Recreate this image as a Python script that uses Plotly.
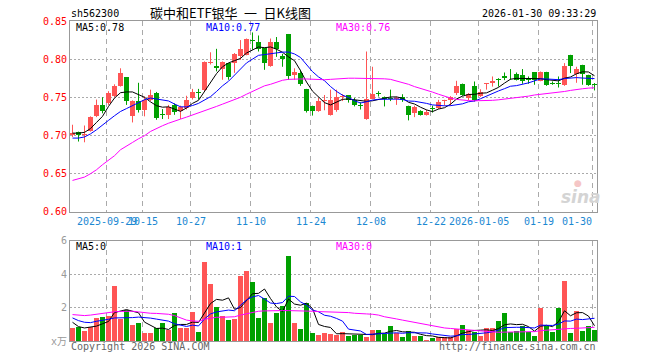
import plotly.graph_objects as go

# ---------------- data ----------------
dates = [
    "2025-09-19", "2025-09-22", "2025-09-23", "2025-09-24", "2025-09-25", "2025-09-26",
    "2025-09-29", "2025-09-30", "2025-10-09", "2025-10-10", "2025-10-13", "2025-10-14",
    "2025-10-15", "2025-10-16", "2025-10-17", "2025-10-20", "2025-10-21", "2025-10-22",
    "2025-10-23", "2025-10-24", "2025-10-27", "2025-10-28", "2025-10-29", "2025-10-30",
    "2025-10-31", "2025-11-03", "2025-11-04", "2025-11-05", "2025-11-06", "2025-11-07",
    "2025-11-10", "2025-11-11", "2025-11-12", "2025-11-13", "2025-11-14", "2025-11-17",
    "2025-11-18", "2025-11-19", "2025-11-20", "2025-11-21", "2025-11-24", "2025-11-25",
    "2025-11-26", "2025-11-27", "2025-11-28", "2025-12-01", "2025-12-02", "2025-12-03",
    "2025-12-04", "2025-12-05", "2025-12-08", "2025-12-09", "2025-12-10", "2025-12-11",
    "2025-12-12", "2025-12-15", "2025-12-16", "2025-12-17", "2025-12-18", "2025-12-19",
    "2025-12-22", "2025-12-23", "2025-12-24", "2025-12-25", "2025-12-26", "2025-12-29",
    "2025-12-30", "2025-12-31", "2026-01-05", "2026-01-06", "2026-01-07", "2026-01-08",
    "2026-01-09", "2026-01-12", "2026-01-13", "2026-01-14", "2026-01-15", "2026-01-16",
    "2026-01-19", "2026-01-20", "2026-01-21", "2026-01-22", "2026-01-23", "2026-01-26",
    "2026-01-27", "2026-01-28", "2026-01-29", "2026-01-30",
]

opens = [
    0.700, 0.704, 0.700, 0.706, 0.725, 0.740, 0.743, 0.752, 0.765, 0.776,
    0.726, 0.745, 0.733, 0.746, 0.756, 0.7275, 0.727, 0.740, 0.732, 0.736,
    0.749, 0.7555, 0.759, 0.7955, 0.791, 0.787, 0.795, 0.795, 0.804, 0.806,
    0.8245, 0.823, 0.814, 0.791, 0.822, 0.8035, 0.833, 0.7786, 0.7817, 0.761,
    0.739, 0.732, 0.7445, 0.727, 0.733, 0.7505, 0.7528, 0.746, 0.7385, 0.7214,
    0.748, 0.7545, 0.750, 0.7485, 0.748, 0.751, 0.739, 0.730, 0.7323, 0.727,
    0.735, 0.7358, 0.745, 0.7467, 0.7555, 0.7677, 0.749, 0.765, 0.752, 0.767,
    0.7686, 0.7735, 0.778, 0.7828, 0.7808, 0.7795, 0.7733, 0.783, 0.772, 0.7834,
    0.768, 0.768, 0.7664, 0.8057, 0.781, 0.7926, 0.7795, 0.767,
]
highs = [
    0.714, 0.705, 0.713, 0.725, 0.747, 0.750, 0.758, 0.767, 0.788, 0.776,
    0.746, 0.769, 0.751, 0.760, 0.757, 0.7345, 0.740, 0.742, 0.739, 0.752,
    0.761, 0.761, 0.797, 0.809, 0.8135, 0.797, 0.795, 0.808, 0.825, 0.827,
    0.835, 0.831, 0.815, 0.827, 0.829, 0.807, 0.833, 0.788, 0.786, 0.761,
    0.739, 0.749, 0.753, 0.760, 0.760, 0.754, 0.753, 0.749, 0.7435, 0.810,
    0.790, 0.758, 0.751, 0.760, 0.751, 0.754, 0.739, 0.739, 0.733, 0.7336,
    0.739, 0.7467, 0.7467, 0.7515, 0.7716, 0.768, 0.7555, 0.7707, 0.7605, 0.768,
    0.7773, 0.775, 0.7825, 0.787, 0.7825, 0.787, 0.7773, 0.783, 0.7838, 0.7834,
    0.7707, 0.7773, 0.7948, 0.8057, 0.790, 0.7926, 0.7795, 0.7686,
]
lows = [
    0.698, 0.692, 0.691, 0.705, 0.724, 0.729, 0.740, 0.750, 0.764, 0.740,
    0.717, 0.730, 0.725, 0.745, 0.7205, 0.7215, 0.7215, 0.727, 0.7215, 0.734,
    0.747, 0.747, 0.758, 0.793, 0.784, 0.773, 0.773, 0.782, 0.799, 0.805,
    0.8125, 0.810, 0.786, 0.790, 0.803, 0.790, 0.773, 0.773, 0.765, 0.730,
    0.726, 0.731, 0.733, 0.726, 0.731, 0.745, 0.743, 0.738, 0.734, 0.7205,
    0.7475, 0.751, 0.738, 0.745, 0.740, 0.744, 0.7197, 0.724, 0.726, 0.726,
    0.730, 0.7345, 0.739, 0.739, 0.753, 0.752, 0.746, 0.7445, 0.7505, 0.760,
    0.764, 0.764, 0.7725, 0.773, 0.772, 0.7677, 0.7677, 0.7664, 0.771, 0.765,
    0.7664, 0.7628, 0.765, 0.7817, 0.769, 0.7664, 0.765, 0.759,
]
closes = [
    0.703, 0.700, 0.701, 0.724, 0.740, 0.732, 0.755, 0.765, 0.782, 0.745,
    0.745, 0.733, 0.747, 0.753, 0.723, 0.727, 0.7375, 0.731, 0.737, 0.747,
    0.757, 0.755, 0.796, 0.796, 0.788, 0.7965, 0.777, 0.807, 0.8135, 0.826,
    0.824, 0.813, 0.7955, 0.822, 0.8135, 0.800, 0.778, 0.7825, 0.767, 0.732,
    0.732, 0.7445, 0.745, 0.746, 0.750, 0.751, 0.7467, 0.740, 0.738, 0.7476,
    0.7546, 0.754, 0.7476, 0.748, 0.7485, 0.746, 0.727, 0.7367, 0.727, 0.731,
    0.7345, 0.7437, 0.7455, 0.750, 0.765, 0.7533, 0.7546, 0.7467, 0.757, 0.7675,
    0.7707, 0.773, 0.7747, 0.7825, 0.773, 0.7707, 0.773, 0.773, 0.7825, 0.7664,
    0.7677, 0.7677, 0.791, 0.7904, 0.787, 0.781, 0.7664, 0.7664,
]
ma5 = [
    0.703, 0.703, 0.704, 0.709, 0.717, 0.725, 0.738, 0.749, 0.756, 0.757,
    0.757, 0.753, 0.750, 0.744, 0.739, 0.737, 0.7375, 0.7345, 0.7315, 0.736,
    0.742, 0.746, 0.758, 0.770, 0.781, 0.790, 0.795, 0.798, 0.801, 0.808,
    0.8125, 0.816, 0.815, 0.816, 0.813, 0.809, 0.803, 0.798, 0.785, 0.770,
    0.758, 0.750, 0.743, 0.740, 0.7435, 0.7473, 0.7477, 0.7467, 0.7451, 0.7447,
    0.7454, 0.7468, 0.7484, 0.7504, 0.7505, 0.7488, 0.7434, 0.7412, 0.737, 0.7335,
    0.7312, 0.7346, 0.7363, 0.7409, 0.7477, 0.7515, 0.7537, 0.7539, 0.7553, 0.7558,
    0.7593, 0.763, 0.7686, 0.7737, 0.7748, 0.7748, 0.7748, 0.7744, 0.7744, 0.7731,
    0.7725, 0.7715, 0.7751, 0.7766, 0.7808, 0.7834, 0.7832, 0.7782,
]
ma10 = [
    0.6965, 0.6965, 0.698, 0.702, 0.7074, 0.714, 0.7197, 0.7258, 0.7314, 0.7352,
    0.7392, 0.7425, 0.7468, 0.749, 0.748, 0.7472, 0.7452, 0.7412, 0.7375, 0.7374,
    0.7392, 0.742, 0.7462, 0.7508, 0.7576, 0.765, 0.771, 0.779, 0.787, 0.795,
    0.800, 0.805, 0.806, 0.807, 0.8088, 0.8092, 0.8093, 0.8068, 0.8022, 0.7928,
    0.7836, 0.7767, 0.7717, 0.7641, 0.7577, 0.7528, 0.7497, 0.7454, 0.7425, 0.7441,
    0.7463, 0.7473, 0.7476, 0.7478, 0.7476, 0.7471, 0.7451, 0.7448, 0.7437, 0.742,
    0.740, 0.739, 0.7388, 0.739, 0.7406, 0.7414, 0.7441, 0.7451, 0.7481, 0.7518,
    0.7554, 0.7583, 0.7613, 0.7645, 0.7653, 0.767, 0.7689, 0.7715, 0.7741, 0.774,
    0.7737, 0.7731, 0.7745, 0.775, 0.7758, 0.7752, 0.7748, 0.7745,
]
ma30 = [
    0.641, 0.6428, 0.6454, 0.6498, 0.655, 0.6616, 0.668, 0.6734, 0.6812, 0.6856,
    0.6908, 0.6956, 0.6996, 0.7052, 0.7092, 0.7127, 0.716, 0.7183, 0.7214, 0.724,
    0.7266, 0.7293, 0.7323, 0.735, 0.738, 0.741, 0.744, 0.7465, 0.750, 0.754,
    0.758, 0.7614, 0.765, 0.767, 0.770, 0.7723, 0.7735, 0.774, 0.774, 0.774,
    0.7735, 0.773, 0.773, 0.7735, 0.774, 0.775, 0.775, 0.775, 0.775, 0.775,
    0.775, 0.7748, 0.7742, 0.7735, 0.7715, 0.7694, 0.767, 0.764, 0.7618, 0.7598,
    0.7568, 0.754, 0.7512, 0.749, 0.7472, 0.7462, 0.7456, 0.7454, 0.7454, 0.7456,
    0.746, 0.7467, 0.7475, 0.7485, 0.7495, 0.7505, 0.7515, 0.753, 0.7538, 0.7545,
    0.7555, 0.7565, 0.7576, 0.759, 0.7605, 0.7612, 0.762, 0.7625,
]
volumes = [
    0.76, 0.82, 0.62, 0.86, 1.40, 1.46, 1.50, 3.30, 1.30, 1.85,
    0.93, 1.05, 0.50, 0.45, 0.80, 1.05, 0.65, 1.70, 0.75, 0.80,
    1.75, 0.55, 4.70, 3.40, 2.05, 1.50, 1.25, 1.30, 3.90, 4.20,
    3.50, 1.35, 2.60, 1.05, 1.70, 2.10, 5.10, 1.10, 0.70, 2.30,
    0.50, 0.35, 0.50, 0.42, 0.38, 0.56, 0.28, 0.36, 0.36, 0.22,
    0.68, 0.68, 0.42, 0.92, 0.46, 0.26, 0.62, 0.32, 0.32, 0.08,
    0.16, 0.22, 0.22, 0.22, 0.72, 0.98, 0.68, 0.56, 0.32, 0.80,
    0.80, 1.22, 1.70, 0.56, 0.62, 0.92, 0.52, 0.32, 2.00, 0.92,
    0.56, 1.96, 3.60, 0.50, 1.82, 0.62, 0.92, 0.68,
]
vol_ma5 = [
    1.12, 0.86, 0.78, 0.82, 0.89, 1.03, 1.17, 1.70, 1.79, 1.88,
    1.78, 1.69, 1.13, 0.96, 0.75, 0.77, 0.69, 0.93, 0.99, 0.99,
    1.13, 1.11, 1.71, 2.24, 2.49, 2.44, 2.58, 1.90, 2.00, 2.43,
    2.83, 2.85, 3.11, 2.54, 2.04, 1.76, 2.51, 2.21, 2.14, 2.26,
    1.94, 0.99, 0.87, 0.81, 0.43, 0.44, 0.43, 0.40, 0.39, 0.36,
    0.38, 0.46, 0.47, 0.58, 0.63, 0.55, 0.54, 0.52, 0.40, 0.32,
    0.30, 0.22, 0.20, 0.18, 0.31, 0.47, 0.56, 0.63, 0.65, 0.67,
    0.63, 0.74, 0.97, 1.02, 0.98, 1.00, 0.86, 0.59, 0.88, 0.94,
    0.86, 1.15, 1.81, 1.51, 1.69, 1.70, 1.49, 0.91,
]
vol_ma10 = [
    1.38, 1.22, 1.12, 1.10, 1.18, 1.22, 1.30, 1.38, 1.38, 1.39,
    1.40, 1.43, 1.42, 1.37, 1.31, 1.27, 1.19, 1.03, 0.97, 0.87,
    0.95, 0.90, 1.32, 1.62, 1.74, 1.79, 1.85, 1.81, 2.12, 2.46,
    2.64, 2.72, 2.51, 2.27, 2.24, 2.30, 2.68, 2.66, 2.34, 2.15,
    1.85, 1.75, 1.54, 1.48, 1.35, 1.19, 0.71, 0.64, 0.60, 0.39,
    0.41, 0.44, 0.44, 0.49, 0.49, 0.46, 0.50, 0.49, 0.49, 0.48,
    0.42, 0.38, 0.36, 0.29, 0.31, 0.39, 0.39, 0.42, 0.42, 0.49,
    0.55, 0.65, 0.80, 0.83, 0.82, 0.82, 0.80, 0.78, 0.95, 0.96,
    0.93, 1.01, 1.20, 1.19, 1.31, 1.28, 1.32, 1.36,
]
vol_ma30 = [
    1.58, 1.55, 1.52, 1.55, 1.60, 1.65, 1.72, 1.75, 1.77, 1.78,
    1.78, 1.74, 1.68, 1.66, 1.65, 1.63, 1.60, 1.52, 1.40, 1.25,
    1.20, 1.18, 1.30, 1.38, 1.42, 1.42, 1.42, 1.45, 1.55, 1.62,
    1.70, 1.78, 1.80, 1.82, 1.82, 1.82, 1.82, 1.82, 1.82, 1.80,
    1.78, 1.76, 1.75, 1.75, 1.74, 1.72, 1.70, 1.66, 1.62, 1.62,
    1.60, 1.55, 1.45, 1.40, 1.32, 1.25, 1.18, 1.10, 1.04, 0.98,
    0.92, 0.85, 0.78, 0.75, 0.72, 0.68, 0.66, 0.62, 0.58, 0.55,
    0.53, 0.52, 0.53, 0.53, 0.54, 0.54, 0.55, 0.56, 0.62, 0.65,
    0.68, 0.72, 0.74, 0.75, 0.76, 0.78, 0.80, 0.82,
]

tick_dates = ["2025-09-29", "2025-10-15", "2025-10-27", "2025-11-10", "2025-11-24",
              "2025-12-08", "2025-12-22", "2026-01-05", "2026-01-19", "2026-01-30"]
tick_labels = ["2025-09-29", "10-15", "10-27", "11-10", "11-24",
               "12-08", "12-22", "2026-01-05", "01-19", "01-30"]
price_ticks = [0.60, 0.65, 0.70, 0.75, 0.80, 0.85]
volume_ticks = [0, 2, 4, 6]
volume_tick_labels = ["x万", "2", "4", "6"]

# ---------------- styles ----------------
UP = "#FF5555"
DOWN = "#00A000"
MONO = "DejaVu Sans Mono"
CJK = "Noto Sans CJK SC"
GRID = "#AAAAAA"
FRAME = "#999999"
XLABEL = "#1C88D2"

n = len(dates)
x = list(range(n))
is_up = [c >= o for o, c in zip(opens, closes)]
colors = [UP if u else DOWN for u in is_up]
body_base = [min(o, c) for o, c in zip(opens, closes)]
body_h = [max(abs(c - o), 0.0013) for o, c in zip(opens, closes)]


def wicks(flag):
    xs, ys = [], []
    for i in x:
        if is_up[i] == flag:
            xs += [i, i, None]
            ys += [lows[i], highs[i], None]
    return xs, ys


fig = go.Figure()
fig.add_trace(go.Bar(x=x, y=body_h, base=body_base, width=5 / 6,
                     marker=dict(color=colors, line=dict(width=0)),
                     xaxis="x", yaxis="y"))
for flag, col in ((True, UP), (False, DOWN)):
    wx, wy = wicks(flag)
    fig.add_trace(go.Scatter(x=wx, y=wy, mode="lines", line=dict(color=col, width=1),
                             xaxis="x", yaxis="y"))
for series, col in ((ma5, "#000000"), (ma10, "#0000FF"), (ma30, "#FF00FF")):
    fig.add_trace(go.Scatter(x=x, y=series, mode="lines", line=dict(color=col, width=1),
                             xaxis="x", yaxis="y"))

fig.add_trace(go.Bar(x=x, y=volumes, width=5 / 6,
                     marker=dict(color=colors, line=dict(width=0)),
                     xaxis="x2", yaxis="y2"))
for series, col in ((vol_ma5, "#000000"), (vol_ma10, "#0000FF"), (vol_ma30, "#FF00FF")):
    fig.add_trace(go.Scatter(x=x, y=series, mode="lines", line=dict(color=col, width=1),
                             xaxis="x2", yaxis="y2"))

# layout geometry (pixels); the page margin is removed by post_script below
W, H = 660, 360
PL, PT, PR, PB = 70, 21, 597, 341          # plot box
L, T, R, B = PL, PT, W - PR, H - PB
PW, PH = PR - PL, PB - PT
x_range = [-2.5 / 6, -2.5 / 6 + PW / 6]
tickvals = [dates.index(d) - 2 / 6 for d in tick_dates]


def px(v):
    return (v - PL) / PW


def py(v):
    return (PB - v) / PH


common_x = dict(range=x_range, tickvals=tickvals, showticklabels=False, showgrid=True,
                gridcolor=GRID, griddash="5px,4px", gridwidth=1, showline=True,
                mirror=True, linecolor=FRAME, linewidth=1, ticks="", zeroline=False,
                fixedrange=True)

fig.update_layout(
    width=W, height=H, margin=dict(l=L, r=R, t=T, b=B),
    paper_bgcolor="white", plot_bgcolor="white",
    showlegend=False, hovermode=False, barmode="overlay", bargap=0,
    xaxis=dict(domain=[0, 1], anchor="y", **common_x),
    xaxis2=dict(domain=[0, 1], anchor="y2", **common_x),
    yaxis=dict(domain=[py(211.7), 1], range=[0.60, 0.85], tickvals=price_ticks,
               ticktext=["%.2f" % v for v in price_ticks],
               tickfont=dict(family=MONO, size=10, color="#FF0000"),
               showgrid=True, gridcolor=GRID, griddash="2px,2px", showline=True,
               mirror=True, linecolor=FRAME, ticks="", zeroline=False, fixedrange=True),
    yaxis2=dict(domain=[0, py(240.7)], range=[0, 6], tickvals=volume_ticks,
                ticktext=volume_tick_labels,
                tickfont=dict(family=MONO + ", " + CJK, size=10, color="#999999"),
                showgrid=True, gridcolor=GRID, griddash="2px,2px", showline=True,
                mirror=True, linecolor=FRAME, ticks="", zeroline=False, fixedrange=True),
)

# date labels under the price panel (last one kept inside the frame)
for i, (tv, lab) in enumerate(zip(tickvals, tick_labels)):
    last = i == len(tickvals) - 1
    fig.add_annotation(text=lab, x=tv, xref="x", y=py(221.7), yref="paper",
                       xanchor="right" if last else "center", yanchor="middle",
                       showarrow=False, borderpad=0,
                       font=dict(family=MONO, size=10, color=XLABEL))


def note(text, xp, yp, color="#000000", anchor="left", size=10, family=MONO):
    fig.add_annotation(text=text, x=px(xp), y=py(yp), xref="paper", yref="paper",
                       xanchor=anchor, yanchor="middle", showarrow=False, borderpad=0,
                       font=dict(family=family, size=size, color=color))


note("sh562300", 70, 13.5)
note("碳中和ETF银华\u2002一\u2002日K线图", 230, 12.5, anchor="center", size=13, family=CJK)
note("2026-01-30 09:33:29", 597, 13.5, anchor="right")
note("MA5:%.2f" % ma5[-1], 75, 27.5)
note("MA10:%.2f" % ma10[-1], 205, 27.5, color="#0000FF")
note("MA30:%.2f" % ma30[-1], 335, 27.5, color="#FF00FF")
note("MA5:%d" % int(vol_ma5[-1]), 75, 246.5)
note("MA10:%d" % int(vol_ma10[-1]), 205, 246.5, color="#0000FF")
note("MA30:%d" % int(vol_ma30[-1]), 335, 246.5, color="#FF00FF")
note("Copyright 2026 SINA.COM", 70, 346, color="#666666")
note("http://finance.sina.com.cn", 597, 346, color="#666666", anchor="right")
note("<i><b>sina</b></i>", 581, 197, color="#D4D4D4", anchor="center", size=17,
     family="DejaVu Sans")
note("●", 578, 183, color="#F5C6C6", anchor="center", size=9, family="DejaVu Sans")

fig.write_html("out.html",
               config={"displayModeBar": False, "staticPlot": True},
               post_script="document.body.style.margin='0';"
                           "document.body.style.overflow='hidden';")
